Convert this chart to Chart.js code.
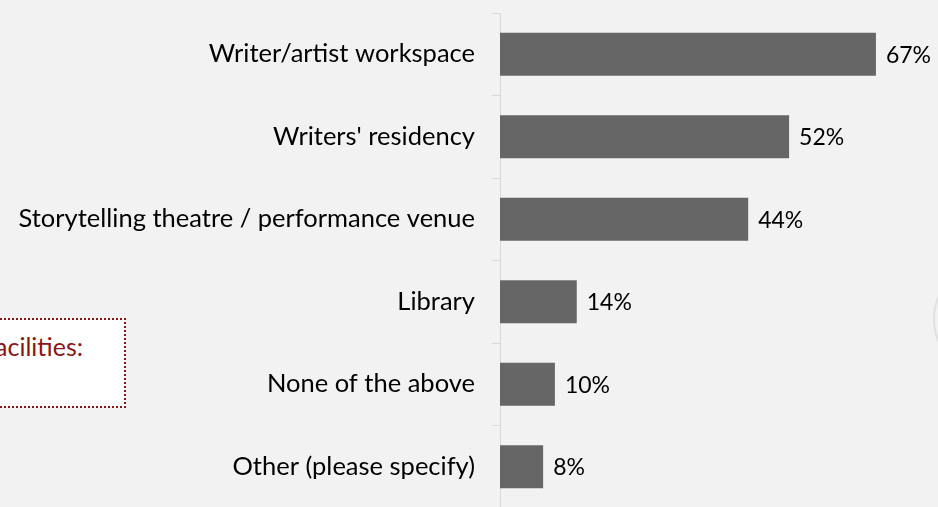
<!DOCTYPE html>
<html>
<head>
<meta charset="utf-8">
<script src="https://cdn.jsdelivr.net/npm/chart.js@4.4.1/dist/chart.umd.min.js"></script>
<style>
    html, body { margin: 0; padding: 0; background: #f2f2f2; overflow: hidden; }
    #wrap { position: relative; width: 938px; height: 515px; }
    #note {
        position: absolute; left: -80px; top: 318px; width: 202px; height: 86px;
        background: #fff; border: 2px dotted #8b1414;
        font-family: Lato, sans-serif; font-size: 25px; color: #8b1414;
        box-sizing: content-box;
    }
    #note span { position: absolute; right: 41px; top: 11px; white-space: nowrap; }
    #ring {
        position: absolute; left: 933px; top: 262px; width: 110px; height: 110px;
        border: 2px solid #e0e0e0; border-radius: 50%;
    }
</style>
</head>
<body>
<div id="wrap">
    <div id="note"><span>Facilities:</span></div>
    <div id="ring"></div>
    <canvas id="myChart" width="938" height="515"></canvas>
</div>
<script>
var categorias = [
    'Writer/artist workspace',
    "Writers' residency",
    'Storytelling theatre / performance venue',
    'Library',
    'None of the above',
    'Other (please specify)'
];
var percentuais = [67.1, 51.6, 44.3, 13.7, 9.8, 7.7];

// desenha o texto "67%" no fim de cada barra
var rotulos = {
    id: 'rotulos',
    afterDatasetsDraw: function (chart) {
        var ctx = chart.ctx;
        var meta = chart.getDatasetMeta(0);
        ctx.save();
        ctx.font = '23px Lato, sans-serif';
        ctx.fillStyle = '#000';
        ctx.textAlign = 'left';
        ctx.textBaseline = 'middle';
        meta.data.forEach(function (bar, i) {
            ctx.fillText(Math.round(percentuais[i]) + '%', bar.x + 10, bar.y + 1);
        });
        ctx.restore();
    }
};

var ctx = document.getElementById('myChart').getContext('2d');
var myChart = new Chart(ctx, {
    type: 'bar',
    data: {
        labels: categorias,
        datasets: [{
            data: percentuais,
            backgroundColor: '#666666',
            borderWidth: 0,
            categoryPercentage: 1,
            barPercentage: 0.52
        }]
    },
    options: {
        indexAxis: 'y',
        responsive: false,
        animation: false,
        layout: { padding: { top: 13, bottom: 7, left: 0, right: 1 } },
        plugins: {
            legend: { display: false },
            tooltip: { enabled: false }
        },
        scales: {
            x: {
                display: false,
                min: 0,
                max: 78
            },
            y: {
                afterFit: function (scale) {
                    scale.width = 500;
                    scale.paddingTop = 0;
                    scale.paddingBottom = 0;
                },
                grid: {
                    offset: true,
                    drawOnChartArea: false,
                    tickLength: 8,
                    color: '#d9d9d9',
                    lineWidth: 1
                },
                border: { color: '#d9d9d9', width: 1 },
                ticks: {
                    color: '#000',
                    padding: 17,
                    font: { family: 'Lato', size: 25.5 }
                }
            }
        }
    },
    plugins: [rotulos]
});
</script>
</body>
</html>
